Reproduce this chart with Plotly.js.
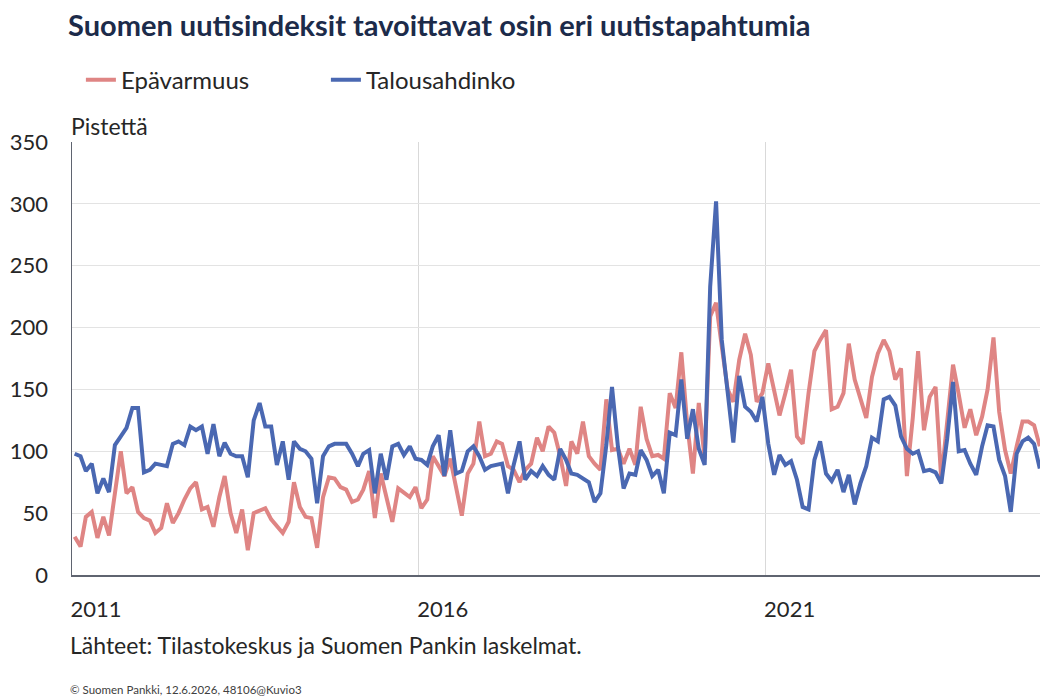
<!DOCTYPE html>
<html>
<head>
<meta charset="utf-8">
<script src="https://cdn.plot.ly/plotly-3.0.1.min.js"></script>
<style>
  html, body { margin: 0; padding: 0; background: #ffffff; }
  #chart { width: 1040px; height: 696px; }
</style>
</head>
<body>
<div id="chart"></div>
<script>
// Monthly index values, January 2011 - December 2024 (points)
const startYear = 2011;
const startMonth = 1;

const epavarmuus = [
  31, 23, 47, 51, 30, 47, 32, 66, 100, 66,
  71, 51, 46, 44, 34, 38, 58, 42, 50, 61,
  70, 75, 53, 55, 39, 63, 80, 50, 34, 53,
  20, 50, 52, 54, 45, 40, 34, 43, 75, 55,
  47, 46, 22, 63, 79, 78, 71, 69, 59, 61,
  69, 84, 46, 82, 61, 43, 70, 67, 63, 71,
  54, 61, 96, 88, 80, 94, 70, 48, 82, 90,
  124, 96, 98, 108, 106, 88, 85, 75, 85, 90,
  111, 100, 120, 115, 96, 72, 108, 98, 124, 96,
  90, 85, 142, 101, 102, 90, 102, 89, 136, 110,
  96, 97, 94, 147, 135, 180, 122, 82, 139, 94,
  209, 220, 185, 150, 140, 174, 195, 178, 140, 147,
  171, 150, 129, 147, 166, 112, 106, 147, 181, 190,
  198, 134, 136, 147, 187, 158, 142, 127, 160, 179,
  190, 181, 158, 167, 80, 127, 181, 117, 144, 152,
  77, 125, 170, 146, 119, 134, 113, 128, 150, 192,
  132, 101, 82, 104, 124, 124, 121, 104
];

const talousahdinko = [
  98, 96, 84, 90, 66, 78, 67, 105, 112, 119,
  135, 135, 83, 85, 90, 89, 88, 106, 108, 105,
  120, 117, 120, 98, 122, 96, 107, 98, 96, 96,
  79, 125, 139, 120, 120, 89, 108, 77, 108, 102,
  100, 94, 58, 96, 104, 106, 106, 106, 98, 88,
  98, 101, 66, 98, 77, 104, 106, 97, 104, 94,
  93, 89, 104, 113, 80, 117, 82, 84, 100, 104,
  96, 85, 88, 89, 90, 66, 89, 108, 77, 84,
  80, 88, 81, 77, 102, 93, 82, 81, 78, 75,
  59, 66, 105, 152, 104, 70, 82, 81, 101, 93,
  80, 85, 66, 115, 113, 158, 110, 134, 102, 89,
  233, 302, 190, 147, 107, 161, 136, 132, 124, 144,
  106, 81, 97, 89, 92, 77, 55, 53, 93, 108,
  82, 76, 85, 67, 81, 57, 74, 88, 111, 108,
  142, 144, 137, 112, 102, 98, 100, 84, 85, 83,
  74, 110, 156, 100, 101, 90, 81, 104, 121, 120,
  93, 80, 51, 98, 108, 111, 106, 86
];

const seriesNames = ['Epävarmuus', 'Talousahdinko'];
const seriesColors = ['#df8584', '#4a68b2'];
const yTickVals = [0, 50, 100, 150, 200, 250, 300, 350];
const xTickVals = ['2011-01-01', '2016-01-01', '2021-01-01'];
const xTickText = ['2011', '2016', '2021'];

const titleText = 'Suomen uutisindeksit tavoittavat osin eri uutistapahtumia';
const yUnitText = 'Pistettä';
const sourceText = 'Lähteet: Tilastokeskus ja Suomen Pankin laskelmat.';
const footerText = '© Suomen Pankki, 12.6.2026, 48106@Kuvio3';

function monthDates(n) {
  const out = [];
  for (let i = 0; i < n; i++) {
    const t = (startMonth - 1) + i;
    const y = startYear + Math.floor(t / 12);
    const m = (t % 12) + 1;
    out.push(y + '-' + String(m).padStart(2, '0') + '-15');
  }
  return out;
}

const dates = monthDates(epavarmuus.length);
const FONT = 'Lato, "Open Sans", sans-serif';

const traces = [
  { x: dates, y: epavarmuus, name: seriesNames[0], type: 'scatter', mode: 'lines',
    line: { color: seriesColors[0], width: 4 } },
  { x: dates, y: talousahdinko, name: seriesNames[1], type: 'scatter', mode: 'lines',
    line: { color: seriesColors[1], width: 4 } }
];

const layout = {
  width: 1040, height: 696,
  paper_bgcolor: '#ffffff', plot_bgcolor: '#ffffff',
  margin: { l: 72, r: 0, t: 142, b: 121 },
  font: { family: FONT, color: '#262626', size: 22 },
  title: {
    text: '<b>' + titleText + '</b>',
    x: 68 / 1040, xref: 'container', xanchor: 'left',
    y: 1 - 26 / 696, yref: 'container', yanchor: 'middle',
    font: { family: FONT, size: 29, color: '#1c2b4a' }
  },
  showlegend: true,
  legend: {
    orientation: 'h', x: 0.0092, xanchor: 'left', y: 1.143, yanchor: 'middle',
    font: { family: FONT, size: 24, color: '#262626' },
    entrywidth: 200, entrywidthmode: 'pixels', itemwidth: 30,
    bgcolor: 'rgba(0,0,0,0)', traceorder: 'normal'
  },
  xaxis: {
    type: 'date', range: ['2011-01-01', '2024-12-16'],
    tickmode: 'array', tickvals: xTickVals, ticktext: xTickText,
    showgrid: true, gridcolor: '#d9d9d9', gridwidth: 1,
    showline: true, linecolor: '#5f6470', linewidth: 1.5,
    ticks: '', ticklabelshift: 24, ticklabelstandoff: 14,
    tickfont: { family: FONT, size: 22, color: '#262626' },
    zeroline: false, fixedrange: true
  },
  yaxis: {
    range: [0, 350], tickmode: 'array', tickvals: yTickVals,
    showgrid: true, gridcolor: '#e3e3e3', gridwidth: 1,
    showline: true, linecolor: '#5f6470', linewidth: 1.5,
    ticks: '', ticklabelstandoff: 18,
    tickfont: { family: FONT, size: 22, color: '#262626' },
    zeroline: false, fixedrange: true
  },
  annotations: [
    { text: yUnitText, xref: 'paper', yref: 'paper', x: 0, y: 1, xanchor: 'left', yanchor: 'bottom',
      xshift: -3, yshift: 0, showarrow: false, font: { family: FONT, size: 23, color: '#262626' } },
    { text: sourceText, xref: 'paper', yref: 'paper', x: 0, y: (575 - 645) / 433, xanchor: 'left', yanchor: 'middle',
      xshift: -4, showarrow: false, font: { family: FONT, size: 23, color: '#262626' } },
    { text: footerText, xref: 'paper', yref: 'paper', x: 0, y: (575 - 689) / 433, xanchor: 'left', yanchor: 'middle',
      xshift: -4, showarrow: false, font: { family: FONT, size: 11.5, color: '#404040' } }
  ]
};

Plotly.newPlot('chart', traces, layout, { displayModeBar: false, staticPlot: true });
</script>
</body>
</html>
